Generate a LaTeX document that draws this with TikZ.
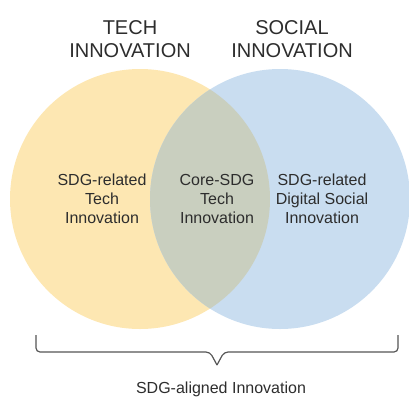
\documentclass[tikz,border=0pt]{standalone}
\usepackage{fontspec}
\setmainfont{Liberation Sans}
\usepackage{tikz}
\definecolor{techfill}{RGB}{253,231,178}
\definecolor{socialfill}{RGB}{201,221,240}
\definecolor{corefill}{RGB}{201,207,191}
\definecolor{txtgray}{RGB}{45,45,45}
\definecolor{bracegray}{RGB}{85,85,85}
\tikzset{
  heading/.style={inner sep=0pt, align=center, font=\fontsize{20}{23}\selectfont, text=txtgray},
  areatext/.style={inner sep=0pt, align=center, font=\fontsize{16}{19}\selectfont, text=txtgray},
}

\begin{document}
\begin{tikzpicture}[x=1pt,y=1pt,yscale=-1,xscale=1]
\useasboundingbox (0,0) rectangle (409,397);
% circles
\fill [techfill] (140,199) circle (130);
\fill [socialfill] (280,199) circle (130);
\begin{scope}
\clip (140,199) circle (130);
\fill [corefill] (280,199) circle (130);
\end{scope}
% headings
\node [heading] (tech) at (130,39) {TECH\\INNOVATION};
\node [heading] (social) at (292,39) {SOCIAL\\INNOVATION};
% areas
\node [areatext] (left) at (102,199) {SDG-related\\Tech\\Innovation};
\node [areatext] (core) at (217,199) {Core-SDG\\Tech\\Innovation};
\node [areatext] (right) at (322,199) {SDG-related\\Digital Social\\Innovation};
% brace
\coordinate (bl) at (36,335);
\coordinate (br) at (398,335);
\coordinate (tip) at (217,365);
\draw [bracegray, line width=1.2, rounded corners=4] (bl) -- (36,352) -- (210,352) -- (tip);
\draw [bracegray, line width=1.2, rounded corners=4] (br) -- (398,352) -- (224,352) -- (tip);
\node [areatext] (total) at (221,389) {SDG-aligned Innovation};
\end{tikzpicture}
\end{document}
